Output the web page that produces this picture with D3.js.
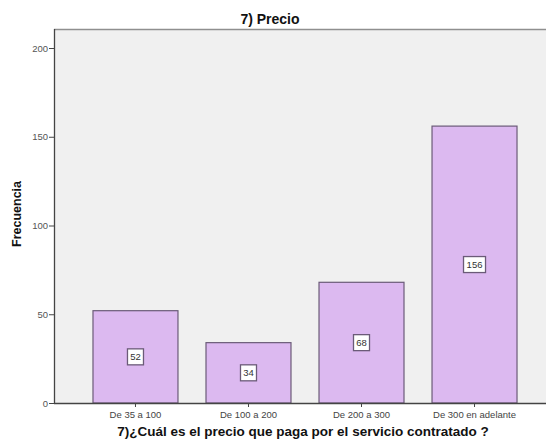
<!DOCTYPE html>
<html>
<head>
<meta charset="utf-8">
<script src="https://cdn.jsdelivr.net/npm/d3@7"></script>
<style>
  html, body { margin: 0; padding: 0; background: #ffffff; }
  svg { display: block; }
</style>
</head>
<body>
<svg id="chart" width="546" height="446"></svg>
<script>
// Frequency of answers to question 7 (price paid for the service)
const categories = ["De 35 a 100", "De 100 a 200", "De 200 a 300", "De 300 en adelante"];
const counts = [52, 34, 68, 156];
const yTicks = [0, 50, 100, 150, 200];

const title = "7) Precio";
const xTitle = "7)¿Cuál es el precio que paga por el servicio contratado ?";
const yTitle = "Frecuencia";

const W = 546, H = 446;
const plot = { left: 54, right: 556, top: 29, bottom: 403 };

const svg = d3.select("#chart");
const font = "'Liberation Sans', Arial, sans-serif";

const x = d3.scaleBand()
  .domain(categories)
  .range([plot.left, plot.right])
  .paddingInner(0.248)
  .paddingOuter(0.345);

const y = d3.scaleLinear()
  .domain([0, 200])
  .range([plot.bottom, 48]);

// plot background and frame
svg.append("rect")
  .attr("x", plot.left).attr("y", plot.top)
  .attr("width", W - plot.left + 2).attr("height", plot.bottom - plot.top)
  .attr("fill", "#f0f0f0");
svg.append("line")
  .attr("x1", plot.left).attr("x2", W)
  .attr("y1", plot.top + 0.5).attr("y2", plot.top + 0.5)
  .attr("stroke", "#8f8f8f").attr("stroke-width", 1.5);

// bars
svg.append("g").selectAll("rect")
  .data(categories)
  .join("rect")
  .attr("x", d => x(d))
  .attr("y", (d, i) => y(counts[i]))
  .attr("width", x.bandwidth())
  .attr("height", (d, i) => y(0) - y(counts[i]))
  .attr("fill", "#dcb9f0")
  .attr("stroke", "#6b5b78")
  .attr("stroke-width", 1.2);

// y axis
const yAxis = svg.append("g")
  .attr("transform", `translate(${plot.left},0)`)
  .call(d3.axisLeft(y).tickValues(yTicks).tickSize(5).tickSizeOuter(0).tickPadding(1));
yAxis.select(".domain").attr("stroke", "#444").attr("stroke-width", 1.3)
  .attr("d", `M0.5,${plot.top}V${plot.bottom}`);
yAxis.selectAll(".tick line").attr("stroke", "#444");
yAxis.selectAll(".tick text")
  .attr("font-family", font).attr("font-size", 9.5).attr("fill", "#555");

// x axis
const xAxis = svg.append("g")
  .attr("transform", `translate(0,${plot.bottom})`)
  .call(d3.axisBottom(x).tickSize(4).tickSizeOuter(0).tickPadding(4));
xAxis.select(".domain").attr("stroke", "#444").attr("stroke-width", 1.3)
  .attr("d", `M${plot.left},0.5H${W}`);
xAxis.selectAll(".tick line").attr("stroke", "#444");
xAxis.selectAll(".tick text")
  .attr("font-family", font).attr("font-size", 9.5).attr("fill", "#444");

// value labels in boxes at mid-height of each bar
const labels = svg.append("g").selectAll("g")
  .data(categories)
  .join("g")
  .attr("transform", (d, i) =>
    `translate(${x(d) + x.bandwidth() / 2},${(y(counts[i]) + y(0)) / 2})`);
labels.append("rect")
  .attr("x", (d, i) => String(counts[i]).length > 2 ? -11 : -8)
  .attr("y", -8)
  .attr("width", (d, i) => String(counts[i]).length > 2 ? 22 : 16)
  .attr("height", 16)
  .attr("fill", "#ffffff")
  .attr("stroke", "#6b5b78")
  .attr("stroke-width", 1.3);
labels.append("text")
  .attr("text-anchor", "middle")
  .attr("dy", "0.35em")
  .attr("font-family", font).attr("font-size", 9.5).attr("fill", "#333")
  .text((d, i) => counts[i]);

// titles
svg.append("text")
  .attr("x", 270).attr("y", 24)
  .attr("text-anchor", "middle")
  .attr("font-family", font).attr("font-size", 14).attr("font-weight", "bold")
  .attr("fill", "#111")
  .text(title);

svg.append("text")
  .attr("x", 303).attr("y", 436)
  .attr("text-anchor", "middle")
  .attr("font-family", font).attr("font-size", 13.5).attr("font-weight", "bold")
  .attr("fill", "#111")
  .text(xTitle);

svg.append("text")
  .attr("transform", "translate(21,214) rotate(-90)")
  .attr("text-anchor", "middle")
  .attr("font-family", font).attr("font-size", 12.5).attr("font-weight", "bold")
  .attr("fill", "#111")
  .text(yTitle);
</script>
</body>
</html>
